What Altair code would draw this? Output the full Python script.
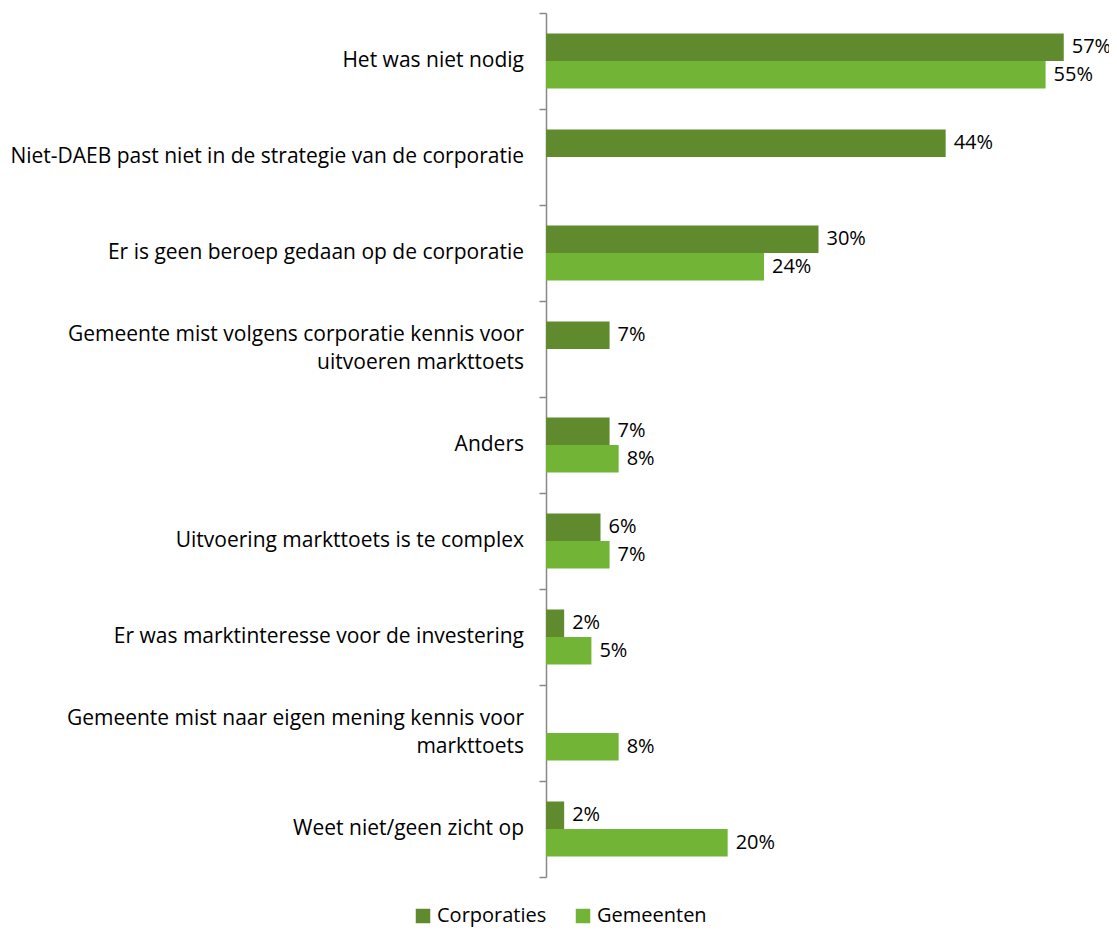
import altair as alt
import pandas as pd

categories = [
    "Het was niet nodig",
    "Niet-DAEB past niet in de strategie van de corporatie",
    "Er is geen beroep gedaan op de corporatie",
    "Gemeente mist volgens corporatie kennis voor\nuitvoeren markttoets",
    "Anders",
    "Uitvoering markttoets is te complex",
    "Er was marktinteresse voor de investering",
    "Gemeente mist naar eigen mening kennis voor\nmarkttoets",
    "Weet niet/geen zicht op",
]
corporaties = [57, 44, 30, 7, 7, 6, 2, None, 2]
gemeenten = [55, None, 24, None, 8, 7, 5, 8, 20]
series = ["Corporaties", "Gemeenten"]
colors = ["#5F8A2E", "#72B536"]

rows = []
for c, a, b in zip(categories, corporaties, gemeenten):
    if a is not None:
        rows.append({"categorie": c, "groep": series[0], "waarde": a})
    if b is not None:
        rows.append({"categorie": c, "groep": series[1], "waarde": b})
df = pd.DataFrame(rows)
cat_df = pd.DataFrame({"categorie": categories})

FONT = "Open Sans"
FS = 21
FS_SMALL = 20

y = alt.Y(
    "categorie:N",
    sort=categories,
    scale=alt.Scale(domain=categories, paddingInner=0, paddingOuter=0),
    axis=alt.Axis(
        title=None,
        labels=False,
        tickBand="extent",
        tickSize=7,
        tickColor="#888888",
        tickWidth=1.5,
        domainColor="#888888",
        domainWidth=1.5,
    ),
)
yoff = alt.YOffset(
    "groep:N",
    sort=series,
    scale=alt.Scale(domain=series, paddingInner=0, paddingOuter=0.745),
)
x = alt.X("waarde:Q", scale=alt.Scale(domain=[0, 60]), axis=None)

bars = alt.Chart(df).mark_bar().encode(
    y=y,
    yOffset=yoff,
    x=x,
    color=alt.Color(
        "groep:N",
        sort=series,
        scale=alt.Scale(domain=series, range=colors),
        legend=alt.Legend(
            title=None,
            orient="none",
            direction="horizontal",
            legendX=-133,
            legendY=893,
            symbolType="square",
            symbolSize=210,
            symbolStrokeWidth=0,
            labelFont=FONT,
            labelFontSize=FS_SMALL,
            labelColor="#000000",
            columnPadding=26,
            labelOffset=4,
        ),
    ),
)

labels = alt.Chart(df).transform_calculate(
    lbl="format(datum.waarde, '.0f') + '%'"
).mark_text(
    align="left", baseline="middle", dx=8, font=FONT, fontSize=FS_SMALL, color="#000000"
).encode(
    y=alt.Y("categorie:N", sort=categories),
    yOffset=alt.YOffset("groep:N", sort=series),
    x=x,
    text="lbl:N",
)

cat_labels = alt.Chart(cat_df).mark_text(
    align="right",
    baseline="middle",
    lineBreak="\n",
    lineHeight=28,
    font=FONT,
    fontSize=FS,
    color="#000000",
    dx=-22,
    dy=alt.expr("indexof(datum.categorie + '', '\\n') >= 0 ? -14 : 0"),
).encode(
    y=alt.Y("categorie:N", sort=categories),
    x=alt.value(0),
    text="categorie:N",
)

chart = (
    alt.layer(bars, labels, cat_labels)
    .properties(
        width=545,
        height=864,
        autosize=alt.AutoSizeParams(type="none"),
        padding={"top": 5, "left": 538, "right": 18, "bottom": 53},
        background="#ffffff",
    )
    .configure_view(stroke=None)
)

chart.save("out.html", embed_options={"renderer": "svg", "actions": False})
